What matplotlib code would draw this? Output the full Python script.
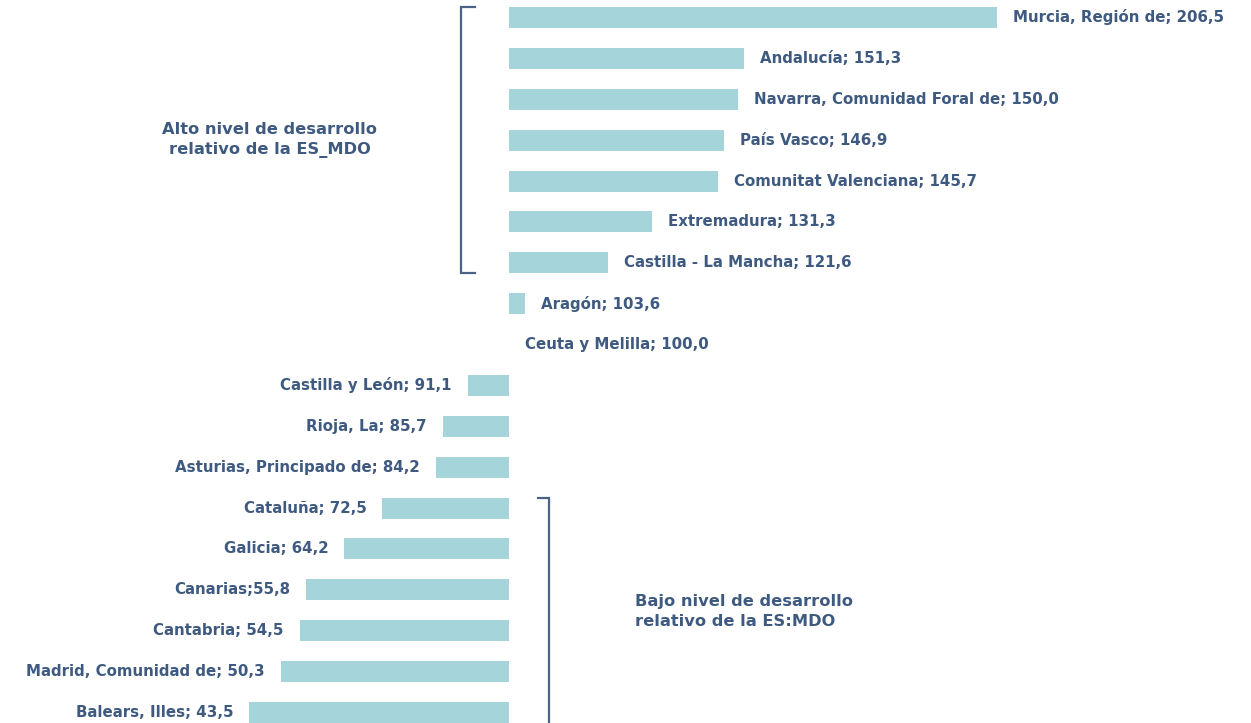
import matplotlib
matplotlib.use("Agg")
import matplotlib.pyplot as plt

regions = ["Murcia, Región de", "Andalucía", "Navarra, Comunidad Foral de", "País Vasco",
           "Comunitat Valenciana", "Extremadura", "Castilla - La Mancha", "Aragón",
           "Ceuta y Melilla", "Castilla y León", "Rioja, La", "Asturias, Principado de",
           "Cataluña", "Galicia", "Canarias", "Cantabria", "Madrid, Comunidad de", "Balears, Illes"]
values = [206.5, 151.3, 150.0, 146.9, 145.7, 131.3, 121.6, 103.6, 100.0,
          91.1, 85.7, 84.2, 72.5, 64.2, 55.8, 54.5, 50.3, 43.5]
separators = ["; "] * 14 + [";"] + ["; "] * 3
group_labels = ["Alto nivel de desarrollo\nrelativo de la ES_MDO",
                "Bajo nivel de desarrollo\nrelativo de la ES:MDO"]

BASE = 100.0
BAR_COLOR = "#A5D5DB"
TEXT_COLOR = "#3F5A80"
LINE_COLOR = "#4A6285"
FONT = ["DejaVu Sans"]
FS = 10.8
FS_GROUP = 11.7

fig = plt.figure(figsize=(12.51, 7.23), dpi=100)
ax = fig.add_axes([0, 0, 1, 1])
ax.axis("off")

ypos = list(range(len(regions)))
h = 0.514
widths = [v - BASE for v in values]
ax.barh(ypos, widths, left=BASE, height=h, color=BAR_COLOR)

ax.set_xlim(-10.86, 261.87)
ax.set_ylim(17.258, -0.428)

for y, name, v, sep in zip(ypos, regions, values, separators):
    txt = f"{name}{sep}{v:.1f}".replace(".", ",")
    if v >= BASE:
        ax.annotate(txt, (v, y), xytext=(16, 0), textcoords="offset pixels",
                    ha="left", va="center", fontsize=FS, fontweight="bold",
                    color=TEXT_COLOR, family=FONT)
    else:
        ax.annotate(txt, (v, y), xytext=(-16, 0), textcoords="offset pixels",
                    ha="right", va="center", fontsize=FS, fontweight="bold",
                    color=TEXT_COLOR, family=FONT)

# top bracket (rows 0-6)
top0 = 0 - h / 2
bot6 = 6 + h / 2
ax.plot([92.6, 89.6, 89.6, 92.6], [top0, top0, bot6, bot6], color=LINE_COLOR, lw=1.6,
        solid_joinstyle="miter", clip_on=False)
# bottom bracket (rows 12-17)
top12 = 12 - h / 2
bot17 = 17 + h / 2 + 0.5
ax.plot([106.4, 108.8, 108.8], [top12, top12, bot17], color=LINE_COLOR, lw=1.6,
        solid_joinstyle="miter")

ax.text(47.9, 3, group_labels[0], ha="center", va="center", multialignment="center",
        fontsize=FS_GROUP, fontweight="bold", color=TEXT_COLOR, family=FONT, linespacing=1.4)
ax.text(127.5, 14.53, group_labels[1], ha="left", va="center", multialignment="left",
        fontsize=FS_GROUP, fontweight="bold", color=TEXT_COLOR, family=FONT, linespacing=1.4)

fig.savefig("out.png", dpi=100, facecolor="white")
